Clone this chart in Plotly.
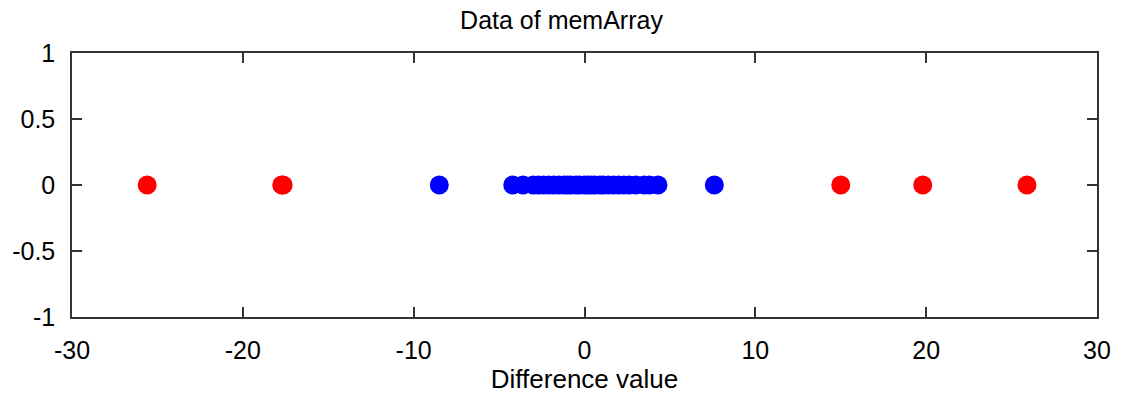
import plotly.graph_objects as go

# Difference values, split by class
inlier_x = [-8.5, -4.2, -3.6, -3.0, -2.7, -2.4, -2.1, -1.8, -1.5, -1.2, -1.0,
            -0.8, -0.5, -0.3, 0.0, 0.2, 0.4, 0.6, 0.9, 1.1, 1.4, 1.7, 2.0,
            2.3, 2.6, 3.0, 3.5, 3.8, 4.3, 7.6]
outlier_x = [-25.6, -17.72, -17.64, 15.0, 19.8, 25.9]
inlier_y = [0] * len(inlier_x)
outlier_y = [0] * len(outlier_x)

x_ticks = [-30, -20, -10, 0, 10, 20, 30]
y_ticks = [-1, -0.5, 0, 0.5, 1]

FONT = "Liberation Sans, Arial, sans-serif"

fig = go.Figure()
fig.add_trace(go.Scatter(x=inlier_x, y=inlier_y, mode="markers",
                         marker=dict(color="#0000ff", size=19, line=dict(width=0)),
                         showlegend=False))
fig.add_trace(go.Scatter(x=outlier_x, y=outlier_y, mode="markers",
                         marker=dict(color="#ff0000", size=19, line=dict(width=0)),
                         showlegend=False))

axis_common = dict(showgrid=False, zeroline=False, showline=True, mirror="allticks",
                   linecolor="#333333", linewidth=1.5, ticks="inside", ticklen=10,
                   tickcolor="#333333", tickwidth=1.5,
                   tickfont=dict(family=FONT, size=25, color="black"))

fig.update_layout(
    width=1123, height=396,
    margin=dict(l=70, r=20, t=53, b=78),
    paper_bgcolor="white", plot_bgcolor="white",
    title=dict(text="Data of memArray", x=0.5, xanchor="center", y=0.95, yanchor="middle",
               font=dict(family=FONT, size=25, color="black")),
    xaxis=dict(range=[-30, 30], tickvals=x_ticks, ticktext=[str(v) for v in x_ticks],
               ticklabelstandoff=10,
               title=dict(text="Difference value", standoff=2,
                          font=dict(family=FONT, size=26, color="black")),
               **axis_common),
    yaxis=dict(range=[-1, 1], tickvals=y_ticks, ticktext=["-1", "-0.5", "0", "0.5", "1"],
               ticklabelstandoff=10,
               **axis_common),
)

fig.write_html("out.html")
